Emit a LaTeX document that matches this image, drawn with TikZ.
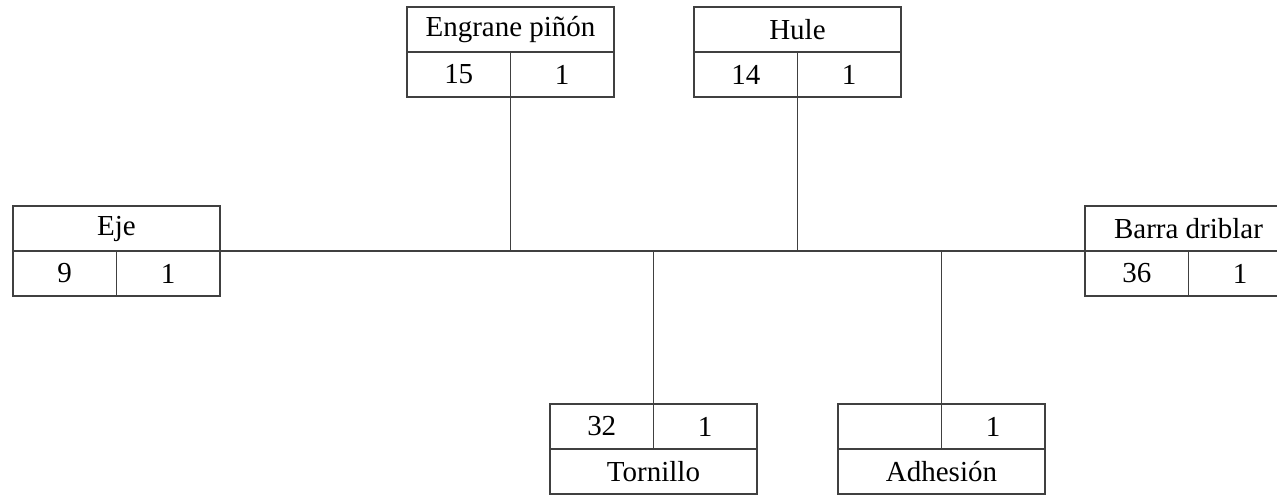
\documentclass[tikz,border=0pt]{standalone}
\usepackage{fontspec}
\setmainfont{Liberation Serif}
\usepackage{xcolor}
\definecolor{LineGray}{HTML}{404040}
\tikzset{
  cellbox/.style={draw=LineGray, line width=0.8pt, outer sep=0pt, inner sep=0pt,
    minimum width=2.07cm, minimum height=0.9cm,
    font=\fontsize{16.5}{19}\selectfont},
  titlebox/.style={cellbox, minimum width=4.14cm},
}

\begin{document}
\begin{tikzpicture}[x=0.02cm, y=-0.02cm]
  \useasboundingbox (0,0) rectangle (1277,496);

  % parts with the name on top
  \foreach \name/\x/\y/\txt/\qa/\qb in {Eje/13/206/Eje/9/1,
    Engrane/407/7/Engrane piñón/15/1,
    Hule/694/7/Hule/14/1,
    Barra/1085/206/Barra driblar/36/1}{%
    \node[titlebox, anchor=north west] (\name-t) at (\x,\y) {\txt};
    \node[cellbox, anchor=north west] (\name-a) at (\name-t.south west) {\qa};
    \node[cellbox, anchor=north west] (\name-b) at (\name-a.north east) {\qb};
  }

  % parts with the name below
  \foreach \name/\x/\y/\txt/\qa/\qb in {Tornillo/550/404/Tornillo/32/1,
    Adhesion/838/404/Adhesión//1}{%
    \node[cellbox, anchor=north west] (\name-a) at (\x,\y) {\qa};
    \node[cellbox, anchor=north west] (\name-b) at (\name-a.north east) {\qb};
    \node[titlebox, anchor=north west] (\name-t) at (\name-a.south west) {\txt};
  }

  % main line and branches
  \draw[draw=LineGray, line width=0.8pt] (Eje-t.south east) -- (Barra-t.south west);
  \foreach \name in {Engrane,Hule}{%
    \draw[draw=LineGray, line width=0.8pt] (\name-a.south east)
      -- (\name-a.south east |- Eje-t.south east);
  }
  \foreach \name in {Tornillo,Adhesion}{%
    \draw[draw=LineGray, line width=0.8pt] (\name-a.north east)
      -- (\name-a.north east |- Eje-t.south east);
  }
\end{tikzpicture}
\end{document}
